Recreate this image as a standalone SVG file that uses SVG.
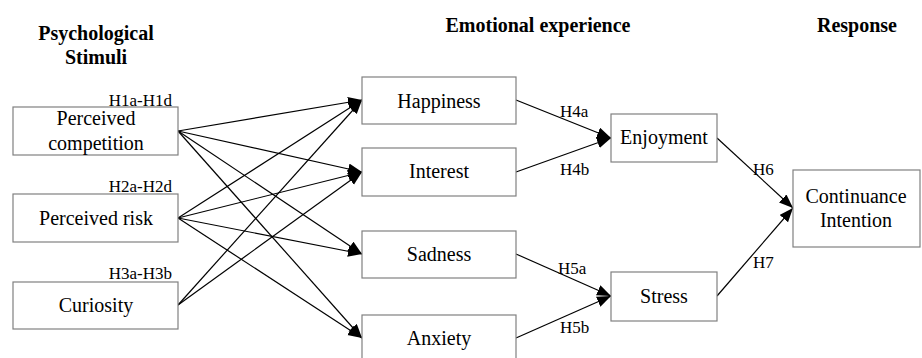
<svg xmlns="http://www.w3.org/2000/svg" width="922" height="358" viewBox="0 0 922 358">
<style>
text{font-family:"Liberation Serif","Times New Roman",serif;fill:#000}
.hd{font-size:20px;font-weight:bold;text-anchor:middle}
.nt{font-size:20px;text-anchor:middle}
.lb{font-size:17px}
.box{fill:#fff;stroke:#808080;stroke-width:1.2}
.cn line{stroke:#000;stroke-width:1.2;marker-end:url(#ah)}
</style>
<defs>
<marker id="ah" markerUnits="userSpaceOnUse" markerWidth="15" markerHeight="12" refX="14" refY="5.5" orient="auto">
<path d="M0,0 L14,5.5 L0,11 z" fill="#000"/>
</marker>
</defs>
<rect width="922" height="358" fill="#fff"/>
<g id="headers">
<text class="hd" x="96" y="40">Psychological</text>
<text class="hd" x="96" y="64">Stimuli</text>
<text class="hd" x="538" y="32">Emotional experience</text>
<text class="hd" x="857" y="32">Response</text>
</g>
<g id="connectors" class="cn">
<line x1="178" y1="131" x2="362" y2="100"/>
<line x1="178" y1="131" x2="362" y2="172"/>
<line x1="178" y1="131" x2="362" y2="254"/>
<line x1="178" y1="131" x2="362" y2="338"/>
<line x1="178" y1="218" x2="362" y2="100"/>
<line x1="178" y1="218" x2="362" y2="172"/>
<line x1="178" y1="218" x2="362" y2="254"/>
<line x1="178" y1="218" x2="362" y2="338"/>
<line x1="178" y1="305" x2="362" y2="100"/>
<line x1="178" y1="305" x2="362" y2="172"/>
<line x1="516" y1="100" x2="611" y2="138"/>
<line x1="516" y1="172" x2="611" y2="138"/>
<line x1="516" y1="254" x2="611" y2="296"/>
<line x1="516" y1="338" x2="611" y2="296"/>
<line x1="717" y1="138" x2="793" y2="208"/>
<line x1="717" y1="296" x2="793" y2="208"/>
</g>
<g id="labels" class="lb">
<text x="172" y="106" text-anchor="end">H1a-H1d</text>
<text x="172" y="192" text-anchor="end">H2a-H2d</text>
<text x="172" y="279" text-anchor="end">H3a-H3b</text>
<text x="560" y="117">H4a</text>
<text x="560" y="175">H4b</text>
<text x="558" y="274">H5a</text>
<text x="560" y="333">H5b</text>
<text x="753" y="175">H6</text>
<text x="753" y="268">H7</text>
</g>
<g id="n-competition"><rect class="box" x="13" y="107" width="165" height="48"/><text class="nt" x="96" y="125">Perceived</text><text class="nt" x="96" y="150">competition</text></g>
<g id="n-risk"><rect class="box" x="13" y="194" width="165" height="48"/><text class="nt" x="96" y="225">Perceived risk</text></g>
<g id="n-curiosity"><rect class="box" x="13" y="282" width="165" height="47"/><text class="nt" x="96" y="312">Curiosity</text></g>
<g id="n-happiness"><rect class="box" x="362" y="77" width="154" height="47"/><text class="nt" x="439" y="108">Happiness</text></g>
<g id="n-interest"><rect class="box" x="362" y="148" width="154" height="48"/><text class="nt" x="439" y="178">Interest</text></g>
<g id="n-sadness"><rect class="box" x="362" y="231" width="154" height="47"/><text class="nt" x="439" y="261">Sadness</text></g>
<g id="n-anxiety"><rect class="box" x="362" y="315" width="154" height="48"/><text class="nt" x="439" y="345">Anxiety</text></g>
<g id="n-enjoyment"><rect class="box" x="611" y="114" width="106" height="48"/><text class="nt" x="664" y="144">Enjoyment</text></g>
<g id="n-stress"><rect class="box" x="611" y="272" width="106" height="49"/><text class="nt" x="664" y="303">Stress</text></g>
<g id="n-continuance"><rect class="box" x="793" y="170" width="127" height="77"/><text class="nt" x="856" y="203">Continuance</text><text class="nt" x="856" y="227">Intention</text></g>
</svg>
